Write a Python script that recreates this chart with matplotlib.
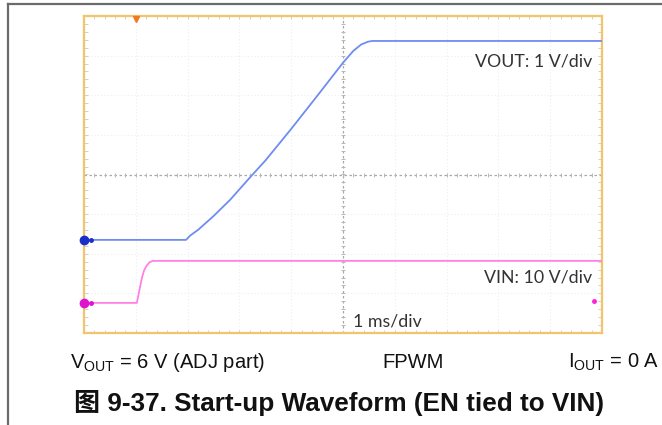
import matplotlib
matplotlib.use("Agg")
import matplotlib.pyplot as plt
from matplotlib.lines import Line2D
import numpy as np

# ---- data (in scope divisions: time 0..10, vertical -4..4) ----
vout_t = [0, 1.97, 2.05, 2.2, 2.5, 2.82, 3.2, 3.5, 4.0, 4.5, 5.0, 5.2, 5.35, 5.48, 5.56, 10]
vout_v = [-1.65, -1.65, -1.54, -1.40, -1.05, -0.64, -0.08, 0.35, 1.15, 1.98, 2.82, 3.12, 3.28, 3.35, 3.37, 3.37]
vin_t = [0, 1.02, 1.05, 1.08, 1.12, 1.16, 1.21, 1.27, 1.33, 10]
vin_v = [-3.24, -3.24, -3.05, -2.85, -2.6, -2.42, -2.3, -2.21, -2.18, -2.18]

vout_label = "VOUT: 1 V/div"
vin_label = "VIN: 10 V/div"
time_label = "1 ms/div"
cond_left = r"$\mathrm{V_{OUT}}$ = 6 V (ADJ part)"
cond_mid = "FPWM"
cond_right = r"$\mathrm{I_{OUT}}$ = 0 A"
title = "图 9-37. Start-up Waveform (EN tied to VIN)"

plt.rcParams['mathtext.fontset'] = 'custom'
plt.rcParams['mathtext.rm'] = 'Liberation Sans'

W, H = 662, 425
fig = plt.figure(figsize=(W / 100, H / 100), dpi=100)

x0, x1, y0, y1 = 84, 602, 16, 333
ax = fig.add_axes([x0 / W, 1 - y1 / H, (x1 - x0) / W, (y1 - y0) / H])
ax.set_xlim(0, 10)
ax.set_ylim(-4, 4)
ax.set_xticks([])
ax.set_yticks([])
for s in ax.spines.values():
    s.set_color('#f2c46c')
    s.set_linewidth(1.6)

# faint grid
for k in range(1, 10):
    if k != 5:
        ax.axvline(k, color='#eeeeee', lw=0.8, ls=(0, (1, 2)), zorder=0)
for k in range(-3, 4):
    if k != 0:
        ax.axhline(k, color='#eeeeee', lw=0.8, ls=(0, (1, 2)), zorder=0)
# center lines
ax.axvline(5, color='#a8a8a8', lw=0.9, ls=(0, (2, 2)), zorder=1)
ax.axhline(0, color='#a8a8a8', lw=0.9, ls=(0, (2, 2)), zorder=1)
# minor ticks along center lines and edges
mt = np.arange(0.2, 10, 0.2)
mv = np.arange(-3.8, 4, 0.2)
ax.plot(mt, np.zeros_like(mt), ls='none', marker='|', ms=3, color='#b8b8b8', mew=0.7)
ax.plot(np.full_like(mv, 5), mv, ls='none', marker='_', ms=3, color='#b8b8b8', mew=0.7)
ax.plot(mt, np.full_like(mt, 3.97), ls='none', marker='|', ms=3, color='#d0d0d0', mew=0.7)
ax.plot(mt, np.full_like(mt, -3.97), ls='none', marker='|', ms=3, color='#d0d0d0', mew=0.7)
ax.plot(np.full_like(mv, 0.03), mv, ls='none', marker='_', ms=3, color='#d0d0d0', mew=0.7)
ax.plot(np.full_like(mv, 9.97), mv, ls='none', marker='_', ms=3, color='#d0d0d0', mew=0.7)

# traces
ax.plot(vout_t, vout_v, color='#6f8cf0', lw=1.3, zorder=3)
ax.plot(vin_t, vin_v, color='#ff80e6', lw=1.3, zorder=3)

# channel markers
ax.plot([0], [vout_v[0]], marker='o', ms=6, color='#1a2fc8', clip_on=False, zorder=5)
ax.plot([0.13], [vout_v[0]], marker='o', ms=2.5, color='#1a2fc8', clip_on=False, zorder=5)
ax.plot([0], [vin_v[0]], marker='o', ms=6, color='#e010d0', clip_on=False, zorder=5)
ax.plot([0.13], [vin_v[0]], marker='o', ms=2.5, color='#e010d0', clip_on=False, zorder=5)
ax.plot([9.85], [-3.2], marker='o', ms=2.5, color='#ff20e0', zorder=5)
# trigger marker
ax.plot([1.0], [3.93], marker='v', ms=4, color='#f07820', clip_on=False, zorder=5)

txt_kw = dict(family=['Lato', 'DejaVu Sans'], color='#333333', fontsize=12.8)
ax.text(9.81, 2.85, vout_label, ha='right', va='center', **txt_kw)
ax.text(9.81, -2.61, vin_label, ha='right', va='center', **txt_kw)
ax.text(5.19, -3.72, time_label, ha='left', va='center', **txt_kw)

# frame lines of the figure
fig.add_artist(Line2D([8 / W, 1], [1 - 4 / H, 1 - 4 / H], color='#6b6b6b', lw=1.6))
fig.add_artist(Line2D([8 / W, 8 / W], [0, 1 - 4 / H], color='#6b6b6b', lw=1.6))

bkw = dict(family=['Liberation Sans', 'DejaVu Sans'], color='#111111', fontsize=14.5)
yb = 1 - 362 / H
fig.text(70 / W, yb, cond_left, ha='left', va='center', **bkw)
fig.text(413 / W, yb, cond_mid, ha='center', va='center', **bkw)
fig.text(659 / W, yb, cond_right, ha='right', va='center', **bkw)
fig.text(74 / W, 1 - 403 / H, title, ha='left', va='center', fontsize=18.8,
         fontweight='bold', family=['Liberation Sans', 'Noto Sans CJK SC'], color='#111111')

fig.savefig('out.png', dpi=100)
